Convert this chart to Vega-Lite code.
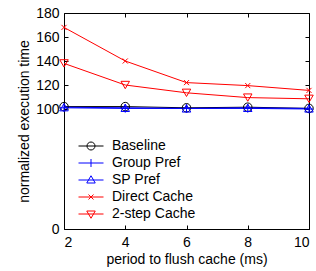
{
  "$schema": "https://vega.github.io/schema/vega-lite/v6.json",
  "width": 245,
  "height": 216,
  "autosize": {"type": "none"},
  "padding": {"left": 64, "top": 13, "right": 7, "bottom": 42},
  "background": "white",
  "config": {
    "view": {"stroke": "black", "strokeWidth": 1},
    "font": "Liberation Sans",
    "axis": {
      "grid": false,
      "domain": false,
      "tickColor": "black",
      "tickSize": -4,
      "tickWidth": 1,
      "labelFont": "Liberation Sans",
      "labelFontSize": 14,
      "labelColor": "black",
      "titleFont": "Liberation Sans",
      "titleFontSize": 14,
      "titleFontWeight": "normal",
      "titleColor": "black"
    },
    "legend": {
      "labelFont": "Liberation Sans",
      "labelFontSize": 14,
      "labelColor": "black"
    }
  },
  "data": {
    "values": [
      {"period": 2, "series": "Baseline", "time": 102},
      {"period": 4, "series": "Baseline", "time": 102},
      {"period": 6, "series": "Baseline", "time": 101},
      {"period": 8, "series": "Baseline", "time": 101.5},
      {"period": 10, "series": "Baseline", "time": 100.5},
      {"period": 2, "series": "Group Pref", "time": 101},
      {"period": 4, "series": "Group Pref", "time": 100.5},
      {"period": 6, "series": "Group Pref", "time": 100.5},
      {"period": 8, "series": "Group Pref", "time": 100.5},
      {"period": 10, "series": "Group Pref", "time": 100},
      {"period": 2, "series": "SP Pref", "time": 101.5},
      {"period": 4, "series": "SP Pref", "time": 101},
      {"period": 6, "series": "SP Pref", "time": 100.5},
      {"period": 8, "series": "SP Pref", "time": 101},
      {"period": 10, "series": "SP Pref", "time": 100.5},
      {"period": 2, "series": "Direct Cache", "time": 168},
      {"period": 4, "series": "Direct Cache", "time": 140},
      {"period": 6, "series": "Direct Cache", "time": 122},
      {"period": 8, "series": "Direct Cache", "time": 119.5},
      {"period": 10, "series": "Direct Cache", "time": 115.5},
      {"period": 2, "series": "2-step Cache", "time": 138},
      {"period": 4, "series": "2-step Cache", "time": 120},
      {"period": 6, "series": "2-step Cache", "time": 113.5},
      {"period": 8, "series": "2-step Cache", "time": 109.5},
      {"period": 10, "series": "2-step Cache", "time": 108.5}
    ]
  },
  "resolve": {
    "axis": {"x": "independent", "y": "independent"},
    "scale": {"shape": "independent", "color": "independent"}
  },
  "layer": [
    {
      "mark": {"type": "line", "strokeWidth": 1},
      "encoding": {
        "x": {
          "field": "period", "type": "quantitative",
          "scale": {"domain": [2, 10], "nice": false, "zero": false},
          "axis": {"values": [2, 4, 6, 8, 10], "title": "period to flush cache (ms)", "labelPadding": 10, "titlePadding": 3}
        },
        "y": {
          "field": "time", "type": "quantitative",
          "scale": {"domain": [0, 180], "nice": false},
          "axis": {"values": [0, 100, 120, 140, 160, 180], "title": "normalized execution time", "labelPadding": 9, "titlePadding": 4}
        },
        "color": {
          "field": "series", "type": "nominal",
          "scale": {"domain": ["Baseline", "Group Pref", "SP Pref", "Direct Cache", "2-step Cache"], "range": ["#000000", "#0000ff", "#0000ff", "#ff0000", "#ff0000"]},
          "legend": null
        },
        "order": {"field": "period"}
      }
    },
    {
      "mark": {"type": "point", "filled": false, "strokeWidth": 1, "size": 72, "opacity": 1},
      "encoding": {
        "x": {
          "field": "period", "type": "quantitative",
          "axis": {"orient": "top", "values": [2, 4, 6, 8, 10], "labels": false, "title": null}
        },
        "y": {
          "field": "time", "type": "quantitative",
          "axis": {"orient": "right", "values": [0, 100, 120, 140, 160, 180], "labels": false, "title": null}
        },
        "color": {
          "field": "series", "type": "nominal",
          "scale": {"domain": ["Baseline", "Group Pref", "SP Pref", "Direct Cache", "2-step Cache"], "range": ["#000000", "#0000ff", "#0000ff", "#ff0000", "#ff0000"]},
          "legend": null
        },
        "shape": {
          "field": "series", "type": "nominal",
          "scale": {"domain": ["Baseline", "Group Pref", "SP Pref", "Direct Cache", "2-step Cache"], "range": ["circle", "M-1,0L1,0M0,-1L0,1", "triangle-up", "M-0.6,-0.6L0.6,0.6M-0.6,0.6L0.6,-0.6", "triangle-down"]},
          "legend": null
        }
      }
    },
    {
      "transform": [{"filter": "datum.time < 0"}],
      "mark": {"type": "point", "filled": false, "strokeWidth": 1, "opacity": 1},
      "encoding": {
        "x": {"field": "period", "type": "quantitative", "axis": null},
        "y": {"field": "time", "type": "quantitative", "axis": null},
        "color": {
          "field": "series", "type": "nominal",
          "scale": {"domain": ["Baseline", "Group Pref", "SP Pref", "Direct Cache", "2-step Cache"], "range": ["#000000", "#0000ff", "#0000ff", "#ff0000", "#ff0000"]},
          "legend": {"title": null, "orient": "none", "legendX": 20, "legendY": 126, "symbolSize": 100, "symbolStrokeWidth": 1, "labelOffset": 14, "rowPadding": 3, "padding": 0}
        },
        "shape": {
          "field": "series", "type": "nominal",
          "scale": {"domain": ["Baseline", "Group Pref", "SP Pref", "Direct Cache", "2-step Cache"], "range": [
            "M-2.5,0L2.5,0M0.8,0A0.8,0.8 0 1,1 -0.8,0A0.8,0.8 0 1,1 0.8,0",
            "M-2.5,0L2.5,0M0,-0.8L0,0.8",
            "M-2.5,0L2.5,0M0,-0.85L0.85,0.6L-0.85,0.6Z",
            "M-2.5,0L2.5,0M-0.5,-0.5L0.5,0.5M-0.5,0.5L0.5,-0.5",
            "M-2.5,0L2.5,0M0,0.85L0.85,-0.6L-0.85,-0.6Z"
          ]},
          "legend": {"title": null, "orient": "none", "legendX": 20, "legendY": 126, "symbolSize": 100, "symbolStrokeWidth": 1, "labelOffset": 14, "rowPadding": 3, "padding": 0}
        }
      }
    }
  ]
}
